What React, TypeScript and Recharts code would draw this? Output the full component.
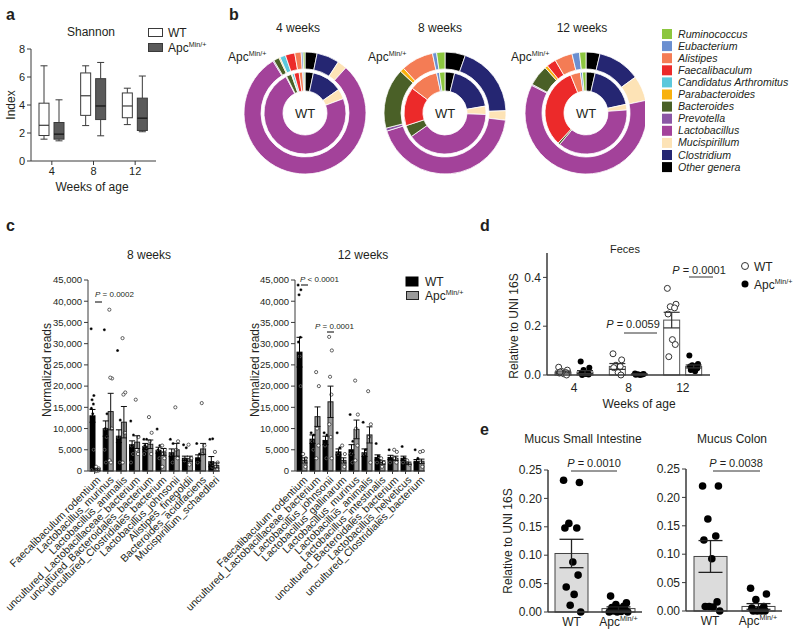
import React from 'react';
import { BarChart, Bar, XAxis, YAxis, ErrorBar, PieChart, Pie, Cell } from 'recharts';

const FONT = '"Liberation Sans", Arial, Helvetica, sans-serif';
const INK = '#231f20';
const AX = '#3a3a3a';

// ---------------- panel a : Shannon ----------------
const shannonWeeks = ['4', '8', '12'];
const shannonTicks = [0, 2, 4, 6, 8];
const wtMin = [1.56, 2.53, 2.6];
const wtQ1 = [1.82, 3.26, 3.09];
const wtMed = [2.55, 4.66, 3.93];
const wtQ3 = [4.13, 6.29, 4.86];
const wtMax = [6.8, 6.8, 5.2];
const apcMin = [1.44, 1.8, 2.09];
const apcQ1 = [1.56, 2.96, 2.18];
const apcMed = [1.92, 3.93, 3.06];
const apcQ3 = [2.75, 5.88, 4.49];
const apcMax = [4.37, 7.04, 6.07];

// ---------------- panel b : genera donuts ----------------
const genera = ['Ruminococcus', 'Eubacterium', 'Alistipes', 'Faecalibaculum', 'Candidatus Arthromitus', 'Parabacteroides', 'Bacteroides', 'Prevotella', 'Lactobacillus', 'Mucispirillum', 'Clostridium', 'Other genera'];
const generaColors = ['#8cc63f', '#6b8fd0', '#f47c55', '#ec2a2a', '#5cc8dc', '#f8b10d', '#4a6027', '#8b56a5', '#a3429a', '#fde3b6', '#252672', '#000000'];
// values in legend order (Ruminococcus ... Other genera), percent
const wk4Apc = [0.5, 0.5, 1.7, 2.5, 1.5, 0.3, 1.5, 0.3, 79.5, 2.5, 6, 3.2];
const wk4WT = [0.4, 0.5, 1.4, 2, 0.8, 0.3, 2, 0.3, 73, 4, 12, 3.3];
const wk8Apc = [2.2, 1.1, 8.6, 0, 0, 1.1, 16, 0.8, 43.3, 2.5, 19, 5.4];
const wk8WT = [2.2, 1.1, 11.4, 15.3, 0, 0, 4.7, 0, 39.7, 3.3, 18.5, 3.8];
const wk12Apc = [1.7, 2, 4.7, 2.5, 0, 0.8, 5.5, 0.3, 60.8, 6.7, 11.3, 3.7];
const wk12WT = [1.4, 0.8, 3.9, 32, 0, 0, 0.8, 0, 37.3, 2.2, 18, 3.6];

// ---------------- panel c : normalized reads ----------------
const readsTicks = [0, 5000, 10000, 15000, 20000, 25000, 30000, 35000, 40000, 45000];
const taxa8 = ['Faecalibaculum rodentium', 'Lactobacillus_murinus', 'Lactobacillus_animalis', 'uncultured_Lactobacillaceae_bacterium', 'uncultured_Bacteroidales_bacterium', 'uncultured_Clostridiales_bacterium', 'Lactobacillus_johnsonii', 'Alistipes_finegoldii', 'Bacteroides_acidifaciens', 'Mucispirillum_schaedleri'];
const wt8 = [13000, 10000, 8200, 6200, 5800, 4900, 4300, 3000, 3100, 2200];
const wt8Err = [1500, 1800, 1500, 900, 700, 700, 900, 500, 700, 1200];
const apc8 = [300, 14000, 11500, 6800, 6300, 4500, 5000, 2900, 5200, 1300];
const apc8Err = [200, 4300, 3700, 1500, 1000, 800, 1500, 600, 1300, 600];
const wt8Pts = [
  [33500, 17800, 16800, 15800, 14800, 13500, 5000, 200],
  [33300, 13500, 10000, 8000, 5000, 2000],
  [28400, 12000, 8000, 2000],
  [11800, 8500, 6000, 4000, 2000],
  [7500, 7500, 6000, 5000, 4000],
  [9900, 6000, 5000, 3000],
  [7500, 6500, 4000, 2000],
  [6200, 5500, 2500],
  [6500, 4000, 2000],
  [7500, 7600, 2000, 1000],
];
const apc8Pts = [
  [1000, 600, 300, 100, 0],
  [38000, 21800, 22000, 10000, 2500, 2000],
  [31300, 18500, 18000, 9000, 2000],
  [16800, 8000, 5000, 4000],
  [12700, 9000, 7000, 4000],
  [6000, 5000, 4000, 3000, 1000],
  [15000, 7000, 5000, 3000],
  [6200, 3000, 1500],
  [16000, 6000, 4000],
  [4500, 2000, 1000, 500],
];
const taxa12 = ['Faecalibaculum rodentium', 'uncultured_Lactobacillaceae_bacterium', 'Lactobacillus_johnsonii', 'Lactobacillus_gallinarum', 'Lactobacillus_murinus', 'Lactobacillus_animalis', 'Lactobacillus_intestinalis', 'uncultured_Bacteroidales_bacterium', 'Lactobacillus_helveticus', 'uncultured_Clostridiales_bacterium'];
const wt12 = [28000, 7500, 7200, 4500, 5000, 4300, 3200, 3200, 3000, 2300];
const wt12Err = [3500, 1000, 1000, 700, 1200, 900, 600, 500, 500, 400];
const apc12 = [2500, 12800, 16300, 2500, 9800, 8500, 2000, 3000, 1800, 2300];
const apc12Err = [600, 2300, 3700, 600, 2200, 1900, 400, 500, 300, 500];
const wt12Pts = [
  [43800, 42700, 41500, 31500, 30400, 27000, 20000],
  [9000, 8500, 7000, 5000],
  [9000, 8500, 6000, 3000],
  [9000, 5500, 4000],
  [13300, 7000, 4000, 2000],
  [11500, 5000, 4000],
  [6500, 3500, 2000],
  [5000, 3000, 2000],
  [5800, 3000, 2000],
  [5000, 3000],
];
const apc12Pts = [
  [4000, 3000, 2000, 1000],
  [23300, 20000, 10000, 6000, 3000],
  [31600, 28400, 22200, 18000, 11000, 8000, 3000],
  [6000, 4000, 2000, 1000],
  [21300, 13300, 10000, 6000, 2500],
  [18800, 11000, 8000, 2000],
  [3000, 2000, 1000],
  [5000, 4500, 3000, 2000],
  [2500, 1500],
  [4500, 4700, 2000, 1000],
];

// ---------------- panel d : feces ----------------
const fecesWeeks = ['4', '8', '12'];
const fecesTicks = [0, 0.2, 0.4];
const fecesWT = [0.012, 0.035, 0.225];
const fecesWTErr = [0.004, 0.012, 0.032];
const fecesApc = [0.012, 0.004, 0.035];
const fecesApcErr = [0.006, 0.001, 0.006];
const fecesWTPts = [
  [0.032, 0.02, 0.015, 0.01, 0.008, 0.005, 0.0, 0.012],
  [0.087, 0.062, 0.04, 0.035, 0.03, 0.01, 0.0],
  [0.355, 0.29, 0.28, 0.275, 0.25, 0.145, 0.125, 0.075],
];
const fecesApcPts = [
  [0.055, 0.03, 0.02, 0.01, 0.006, 0.004, 0.002, 0.0],
  [0.006, 0.004, 0.003, 0.002, 0.001, 0.0],
  [0.08, 0.045, 0.04, 0.038, 0.035, 0.03, 0.028, 0.02, 0.015],
];

// ---------------- panel e : mucus ----------------
const mucusGroups = ['WT', 'Apc'];
const mucusTicks = [0, 0.05, 0.1, 0.15, 0.2, 0.25];
const siMean = [0.103, 0.006];
const siErr = [0.025, 0.003];
const siPts = [
  [0.232, 0.228, 0.156, 0.148, 0.148, 0.088, 0.065, 0.044, 0.031, 0.012, 0.0],
  [0.028, 0.016, 0.013, 0.01, 0.008, 0.006, 0.004, 0.002, 0.001, 0, 0, 0],
];
const colonMean = [0.096, 0.008];
const colonErr = [0.028, 0.005];
const colonPts = [
  [0.22, 0.22, 0.162, 0.132, 0.125, 0.092, 0.016, 0.008, 0.007, 0.008, 0.0],
  [0.04, 0.03, 0.02, 0.008, 0.005, 0.002, 0, 0, 0, 0],
];

// ---------------- helpers ----------------
const JIT = [-0.3, 0.3, -0.1, 0.2, -0.25, 0.05, 0.25, -0.2, 0.1, -0.05, 0.35, -0.35];

type DotStyle = { r: number; fill: string; stroke: string; sw: number };

function dotBarShape(valueKey: string, ptsKey: string, fills: string[] | string, barStroke: string, dot: DotStyle, spread: number) {
  return (props: any) => {
    const { x, y, width, height, payload, index } = props;
    const v = payload[valueKey];
    const base = y + height;
    const k = v ? height / v : 0;
    const pts: number[] = payload[ptsKey] || [];
    const fill = Array.isArray(fills) ? fills[index] : fills;
    return (
      <g>
        <rect x={x} y={y} width={width} height={height} fill={fill} stroke={barStroke} strokeWidth={1} />
        {pts.map((p, i) => (
          <circle key={i} cx={x + width / 2 + JIT[i % JIT.length] * width * spread} cy={base - p * k} r={dot.r} fill={dot.fill} stroke={dot.stroke} strokeWidth={dot.sw} />
        ))}
      </g>
    );
  };
}

function boxShape(key: 'wt' | 'apc', fill: string) {
  return (props: any) => {
    const { x, y, width, height, payload } = props;
    const s = payload[key];
    const base = y + height;
    const k = height / s.max;
    const py = (v: number) => base - v * k;
    const cx = x + width / 2;
    const cap = width * 0.35;
    return (
      <g>
        <line x1={cx} x2={cx} y1={py(s.max)} y2={py(s.q3)} stroke={AX} strokeWidth={1} />
        <line x1={cx} x2={cx} y1={py(s.q1)} y2={py(s.min)} stroke={AX} strokeWidth={1} />
        <line x1={cx - cap} x2={cx + cap} y1={py(s.max)} y2={py(s.max)} stroke={AX} strokeWidth={1} />
        <line x1={cx - cap} x2={cx + cap} y1={py(s.min)} y2={py(s.min)} stroke={AX} strokeWidth={1} />
        <rect x={x} y={py(s.q3)} width={width} height={py(s.q1) - py(s.q3)} fill={fill} stroke={AX} strokeWidth={1} />
        <line x1={x} x2={x + width} y1={py(s.med)} y2={py(s.med)} stroke={key === 'apc' ? '#111' : AX} strokeWidth={1.2} />
      </g>
    );
  };
}

const Apc = ({ size }: { size: number }) => (
  <>
    Apc<tspan fontSize={size * 0.6} dy={-size * 0.4}>Min/+</tspan>
  </>
);

const Tx = ({ x, y, children, size = 12, anchor = 'start', weight, italic, rotate, fill = INK }: any) => (
  <text x={x} y={y} fontSize={size} fontFamily={FONT} fill={fill} textAnchor={anchor} fontWeight={weight} fontStyle={italic ? 'italic' : undefined} transform={rotate ? `rotate(${rotate} ${x} ${y})` : undefined}>
    {children}
  </text>
);

const PVal = ({ x, y, size, text, anchor = 'middle' }: any) => (
  <Tx x={x} y={y} size={size} anchor={anchor}>
    <tspan fontStyle="italic">P</tspan>
    {text}
  </Tx>
);

const RotTick = (props: any) => {
  const { x, y, payload } = props;
  return (
    <g transform={`translate(${x + 4},${y + 2}) rotate(-45)`}>
      <text x={0} y={0} dy="0.35em" textAnchor="end" fontSize={10.5} fontFamily={FONT} fill={INK}>
        {payload.value}
      </text>
    </g>
  );
};

const GroupTick = (props: any) => {
  const { x, y, payload } = props;
  return (
    <text x={x} y={y + 12} textAnchor="middle" fontSize={12} fontFamily={FONT} fill={INK}>
      {payload.value === 'Apc' ? <Apc size={12} /> : payload.value}
    </text>
  );
};

const axisTick = (size: number) => ({ fontSize: size, fontFamily: FONT, fill: INK });

// ---------------- data tables ----------------
const shannonRows = shannonWeeks.map((w, i) => ({
  week: w,
  wtMax: wtMax[i],
  apcMax: apcMax[i],
  wt: { min: wtMin[i], q1: wtQ1[i], med: wtMed[i], q3: wtQ3[i], max: wtMax[i] },
  apc: { min: apcMin[i], q1: apcQ1[i], med: apcMed[i], q3: apcQ3[i], max: apcMax[i] },
}));

const ring = (vals: number[]) =>
  genera
    .map((g, i) => ({ name: g, v: vals[i], color: generaColors[i] }))
    .reverse()
    .filter((d) => d.v > 0);

const donuts = [
  { cx: 80, outer: ring(wk4Apc), inner: ring(wk4WT) },
  { cx: 220, outer: ring(wk8Apc), inner: ring(wk8WT) },
  { cx: 361, outer: ring(wk12Apc), inner: ring(wk12WT) },
];

const readsRows = (names: string[], wt: number[], wtE: number[], apc: number[], apcE: number[], wtP: number[][], apcP: number[][]) =>
  names.map((n, i) => ({ name: n, wt: wt[i], wtErr: wtE[i], apc: apc[i], apcErr: apcE[i], wtPts: wtP[i], apcPts: apcP[i] }));

const reads8 = readsRows(taxa8, wt8, wt8Err, apc8, apc8Err, wt8Pts, apc8Pts);
const reads12 = readsRows(taxa12, wt12, wt12Err, apc12, apc12Err, wt12Pts, apc12Pts);

const fecesRows = fecesWeeks.map((w, i) => ({ week: w, wt: fecesWT[i], wtErr: fecesWTErr[i], apc: fecesApc[i], apcErr: fecesApcErr[i], wtPts: fecesWTPts[i], apcPts: fecesApcPts[i] }));

const siRows = mucusGroups.map((g, i) => ({ group: g, mean: siMean[i], err: siErr[i], pts: siPts[i] }));
const colonRows = mucusGroups.map((g, i) => ({ group: g, mean: colonMean[i], err: colonErr[i], pts: colonPts[i] }));

// ---------------- sub charts ----------------
const ReadsChart = ({ rows, left, width, yw }: any) => (
  <div style={{ position: 'absolute', left, top: 270 }}>
    <BarChart width={width} height={374} data={rows} margin={{ top: 10, right: 10, bottom: 0, left: 0 }} barGap={0} barSize={5}>
      <XAxis dataKey="name" interval={0} height={173} tick={<RotTick />} tickSize={3} axisLine={{ stroke: AX }} tickLine={{ stroke: AX }} />
      <YAxis width={yw} domain={[0, 45000]} ticks={readsTicks} tickFormatter={(v: number) => v.toLocaleString('en-US')} tick={axisTick(9.5)} tickSize={4} axisLine={{ stroke: AX }} tickLine={{ stroke: AX }} interval={0} />
      <Bar dataKey="wt" isAnimationActive={false} shape={dotBarShape('wt', 'wtPts', '#000', '#000', { r: 1.5, fill: '#000', stroke: '#fff', sw: 0.3 }, 0.9)}>
        <ErrorBar dataKey="wtErr" width={3} stroke="#000" strokeWidth={1} />
      </Bar>
      <Bar dataKey="apc" isAnimationActive={false} shape={dotBarShape('apc', 'apcPts', '#9a9a9a', '#222', { r: 1.6, fill: '#fff', stroke: '#222', sw: 0.7 }, 0.9)}>
        <ErrorBar dataKey="apcErr" width={3} stroke="#111" strokeWidth={1} />
      </Bar>
    </BarChart>
  </div>
);

const MucusChart = ({ rows, left, top, width, height, yw, right }: any) => (
  <div style={{ position: 'absolute', left, top }}>
    <BarChart width={width} height={height} data={rows} margin={{ top: 10, right, bottom: 0, left: 0 }} barSize={33}>
      <XAxis dataKey="group" height={height - 10 - 142} tick={<GroupTick />} tickSize={0} axisLine={{ stroke: AX, strokeWidth: 1.5 }} tickLine={false} />
      <YAxis width={yw} domain={[0, 0.25]} ticks={mucusTicks} tickFormatter={(v: number) => v.toFixed(2)} tick={axisTick(12)} tickSize={4} axisLine={{ stroke: AX, strokeWidth: 1.5 }} tickLine={{ stroke: AX }} interval={0} />
      <Bar dataKey="mean" isAnimationActive={false} shape={dotBarShape('mean', 'pts', ['#dcdcdc', '#ffffff'], '#444', { r: 3.8, fill: '#000', stroke: '#000', sw: 0 }, 0.8)}>
        <ErrorBar dataKey="err" width={12} stroke="#222" strokeWidth={1.3} />
      </Bar>
    </BarChart>
  </div>
);

export default function App() {
  return (
    <div style={{ position: 'absolute', left: 0, top: 0, width: 800, height: 644, background: '#fff', overflow: 'hidden', fontFamily: FONT }}>
      {/* panel a */}
      <div style={{ position: 'absolute', left: 0, top: 0 }}>
        <BarChart width={170} height={200} data={shannonRows} margin={{ top: 49, right: 14, bottom: 0, left: 0 }} barSize={10} barGap={5}>
          <XAxis dataKey="week" height={39} tick={axisTick(11)} tickSize={4} axisLine={{ stroke: AX }} tickLine={{ stroke: AX }} />
          <YAxis width={31} domain={[0, 8]} ticks={shannonTicks} tick={axisTick(11)} tickSize={4} axisLine={{ stroke: AX }} tickLine={{ stroke: AX }} interval={0} />
          <Bar dataKey="wtMax" isAnimationActive={false} shape={boxShape('wt', '#ffffff')} />
          <Bar dataKey="apcMax" isAnimationActive={false} shape={boxShape('apc', '#5a5a5a')} />
        </BarChart>
      </div>

      {/* panel b */}
      <div style={{ position: 'absolute', left: 225, top: 40 }}>
        <PieChart width={420} height={150} margin={{ top: 0, right: 0, bottom: 0, left: 0 }}>
          {donuts.map((d, j) => (
            <Pie key={'o' + j} data={d.outer} dataKey="v" nameKey="name" cx={d.cx} cy={73} innerRadius={44} outerRadius={61} startAngle={90} endAngle={-270} stroke="#fff" strokeWidth={0.8} isAnimationActive={false}>
              {d.outer.map((e, i) => (
                <Cell key={i} fill={e.color} />
              ))}
            </Pie>
          ))}
          {donuts.map((d, j) => (
            <Pie key={'i' + j} data={d.inner} dataKey="v" nameKey="name" cx={d.cx} cy={73} innerRadius={22} outerRadius={41} startAngle={90} endAngle={-270} stroke="#fff" strokeWidth={0.8} isAnimationActive={false}>
              {d.inner.map((e, i) => (
                <Cell key={i} fill={e.color} />
              ))}
            </Pie>
          ))}
        </PieChart>
      </div>

      {/* panel c */}
      <ReadsChart rows={reads8} left={-100} width={330} yw={188} />
      <ReadsChart rows={reads12} left={130} width={305} yw={165} />

      {/* panel d */}
      <div style={{ position: 'absolute', left: 480, top: 240 }}>
        <BarChart width={260} height={180} data={fecesRows} margin={{ top: 13, right: 30, bottom: 0, left: 0 }} barSize={16} barGap={6}>
          <XAxis dataKey="week" height={45} tick={axisTick(12)} tickSize={0} tickMargin={8} axisLine={{ stroke: AX, strokeWidth: 1.5 }} tickLine={false} />
          <YAxis width={67} domain={[0, 0.5]} ticks={fecesTicks} tickFormatter={(v: number) => v.toFixed(1)} tick={axisTick(12)} tickSize={4} axisLine={{ stroke: AX, strokeWidth: 1.5 }} tickLine={{ stroke: AX }} interval={0} />
          <Bar dataKey="wt" isAnimationActive={false} shape={dotBarShape('wt', 'wtPts', '#fff', '#555', { r: 3, fill: '#fff', stroke: '#333', sw: 1 }, 0.9)}>
            <ErrorBar dataKey="wtErr" width={8} stroke="#333" strokeWidth={1.2} />
          </Bar>
          <Bar dataKey="apc" isAnimationActive={false} shape={dotBarShape('apc', 'apcPts', '#fff', '#555', { r: 3, fill: '#000', stroke: '#000', sw: 0 }, 0.9)}>
            <ErrorBar dataKey="apcErr" width={8} stroke="#333" strokeWidth={1.2} />
          </Bar>
        </BarChart>
      </div>

      {/* panel e */}
      <MucusChart rows={siRows} left={480} top={460} width={170} height={184} yw={68} right={8} />
      <MucusChart rows={colonRows} left={620} top={459} width={170} height={184} yw={66} right={8} />

      {/* text overlay */}
      <svg width={800} height={644} style={{ position: 'absolute', left: 0, top: 0, pointerEvents: 'none' }}>
        {/* letters */}
        <Tx x={6} y={20} size={16} weight="bold">a</Tx>
        <Tx x={229} y={20} size={16} weight="bold">b</Tx>
        <Tx x={6} y={231} size={16} weight="bold">c</Tx>
        <Tx x={480} y={231} size={16} weight="bold">d</Tx>
        <Tx x={480} y={435} size={16} weight="bold">e</Tx>

        {/* panel a */}
        <Tx x={91} y={36} anchor="middle">Shannon</Tx>
        <rect x={148.5} y={28.5} width={14} height={8} fill="#fff" stroke={AX} />
        <Tx x={168} y={37}>WT</Tx>
        <rect x={148.5} y={43.5} width={14} height={8} fill="#5a5a5a" stroke={AX} />
        <Tx x={168} y={52}><Apc size={12} /></Tx>
        <Tx x={15} y={105} anchor="middle" rotate={-90}>Index</Tx>
        <Tx x={92} y={191} anchor="middle">Weeks of age</Tx>

        {/* panel b */}
        <Tx x={298} y={32} anchor="middle">4 weeks</Tx>
        <Tx x={440} y={32} anchor="middle">8 weeks</Tx>
        <Tx x={582} y={32} anchor="middle">12 weeks</Tx>
        <Tx x={228} y={61}><Apc size={12} /></Tx>
        <Tx x={368} y={61}><Apc size={12} /></Tx>
        <Tx x={511} y={61}><Apc size={12} /></Tx>
        <Tx x={305} y={118} anchor="middle" size={13}>WT</Tx>
        <Tx x={445} y={118} anchor="middle" size={13}>WT</Tx>
        <Tx x={586} y={118} anchor="middle" size={13}>WT</Tx>
        {genera.map((g, i) => (
          <g key={g}>
            <rect x={662} y={29 + i * 12.1} width={10} height={10} fill={generaColors[i]} />
            <Tx x={678} y={37.5 + i * 12.1} size={10.6} italic>{g}</Tx>
          </g>
        ))}

        {/* panel c */}
        <Tx x={149} y={259} anchor="middle">8 weeks</Tx>
        <Tx x={363} y={259} anchor="middle">12 weeks</Tx>
        <Tx x={51} y={370} anchor="middle" rotate={-90}>Normalized reads</Tx>
        <Tx x={259} y={370} anchor="middle" rotate={-90}>Normalized reads</Tx>
        <rect x={406} y={277} width={12} height={9} fill="#000" stroke="#000" />
        <Tx x={425} y={286}>WT</Tx>
        <rect x={406.5} y={291.5} width={12} height={8} fill="#9a9a9a" stroke="#222" />
        <Tx x={425} y={300}><Apc size={12} /></Tx>
        <PVal x={95} y={297} size={8} text=" = 0.0002" anchor="start" />
        <line x1={95} x2={102} y1={302} y2={302} stroke="#000" />
        <PVal x={300} y={282} size={8} text=" < 0.0001" anchor="start" />
        <line x1={301} x2={308} y1={285} y2={285} stroke="#000" />
        <PVal x={315} y={329} size={8} text=" = 0.0001" anchor="start" />
        <line x1={327} x2={334} y1={332} y2={332} stroke="#000" />

        {/* panel d */}
        <Tx x={625} y={253} anchor="middle" size={11}>Feces</Tx>
        <Tx x={518} y={326} anchor="middle" rotate={-90}>Relative to UNI 16S</Tx>
        <Tx x={639} y={408} anchor="middle">Weeks of age</Tx>
        <circle cx={745} cy={266} r={3.5} fill="#fff" stroke="#333" strokeWidth={1} />
        <Tx x={754} y={271}>WT</Tx>
        <circle cx={745} cy={284} r={3.5} fill="#000" />
        <Tx x={754} y={289}><Apc size={12} /></Tx>
        <PVal x={633} y={328} size={11} text=" = 0.0059" />
        <line x1={624} x2={657} y1={333} y2={333} stroke="#333" />
        <PVal x={699} y={274} size={11} text=" = 0.0001" />
        <line x1={689} x2={713} y1={277} y2={277} stroke="#333" />

        {/* panel e */}
        <Tx x={583} y={443} anchor="middle">Mucus Small Intestine</Tx>
        <Tx x={732} y={443} anchor="middle">Mucus Colon</Tx>
        <Tx x={512} y={541} anchor="middle" rotate={-90}>Relative to UNI 16S</Tx>
        <PVal x={594} y={467} size={11} text=" = 0.0010" />
        <line x1={571} x2={617} y1={471} y2={471} stroke="#333" />
        <PVal x={736} y={467} size={11} text=" = 0.0038" />
        <line x1={713} x2={760} y1={471} y2={471} stroke="#333" />
      </svg>
    </div>
  );
}
